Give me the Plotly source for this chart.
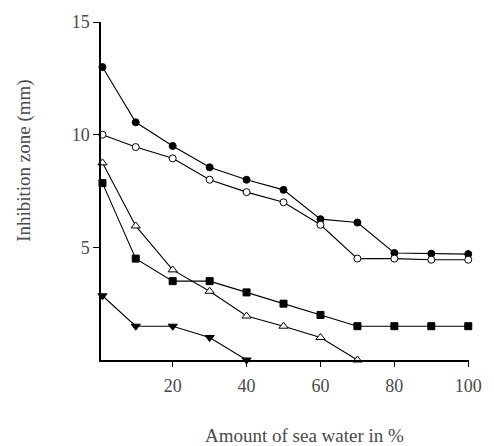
import plotly.graph_objects as go

x_all = [1, 10, 20, 30, 40, 50, 60, 70, 80, 90, 100]
filled_circle = [13.0, 10.55, 9.5, 8.55, 8.0, 7.55, 6.25, 6.1, 4.75, 4.72, 4.7]
open_circle = [10.0, 9.45, 8.95, 8.0, 7.45, 7.0, 6.0, 4.5, 4.5, 4.45, 4.45]
x_tri = [1, 10, 20, 30, 40, 50, 60, 70]
open_triangle = [8.75, 5.95, 4.0, 3.05, 1.95, 1.5, 1.0, 0.0]
filled_square = [7.85, 4.5, 3.5, 3.5, 3.0, 2.5, 2.0, 1.5, 1.5, 1.5, 1.5]
x_dtri = [1, 10, 20, 30, 40]
filled_down_triangle = [2.85, 1.5, 1.5, 1.0, 0.0]

x_ticks = [20, 40, 60, 80, 100]
y_ticks = [5, 10, 15]

font_family = "Liberation Serif, DejaVu Serif, serif"
text_color = "#4a4a4a"

fig = go.Figure()

def add(x, y, symbol, fill):
    fig.add_trace(go.Scatter(
        x=x, y=y, mode="lines+markers",
        line=dict(color="black", width=1.1),
        marker=dict(symbol=symbol, size=7 if "triangle" not in symbol else 8,
                    color="black" if fill else "white",
                    line=dict(color="black", width=1)),
        cliponaxis=False, showlegend=False))

add(x_all, filled_circle, "circle", True)
add(x_all, open_circle, "circle", False)
add(x_tri, open_triangle, "triangle-up", False)
add(x_all, filled_square, "square", True)
add(x_dtri, filled_down_triangle, "triangle-down", True)

fig.update_layout(
    width=494, height=446,
    margin=dict(l=101, r=13, t=18, b=86),
    paper_bgcolor="white", plot_bgcolor="white",
    font=dict(family=font_family, size=18, color=text_color),
    xaxis=dict(range=[0.6, 100.2], tickvals=x_ticks, ticks="outside", ticklen=5,
               tickcolor="black", showline=True, linecolor="black", linewidth=1.5,
               showgrid=False, zeroline=False, tickfont=dict(size=18, color=text_color),
               ticklabelstandoff=4),
    yaxis=dict(range=[0, 15], tickvals=y_ticks, ticks="outside", ticklen=6,
               tickcolor="black", showline=True, linecolor="black", linewidth=1.5,
               showgrid=False, zeroline=False, tickfont=dict(size=18, color=text_color)),
    annotations=[
        dict(text="Amount of sea water in %", xref="paper", yref="paper",
             x=(311 - 101) / 380, y=-(436 - 360) / 342, showarrow=False,
             xanchor="center", yanchor="middle", font=dict(size=19, color=text_color)),
        dict(text="Inhibition zone (mm)", xref="paper", yref="paper",
             x=-(101 - 22) / 380, y=(360 - 158) / 342, showarrow=False, textangle=-90,
             xanchor="center", yanchor="middle", font=dict(size=19, color=text_color)),
    ],
)

fig.write_html("out.html", config={"displayModeBar": False},
               post_script="document.body.style.margin='0';document.body.style.overflow='hidden';")
